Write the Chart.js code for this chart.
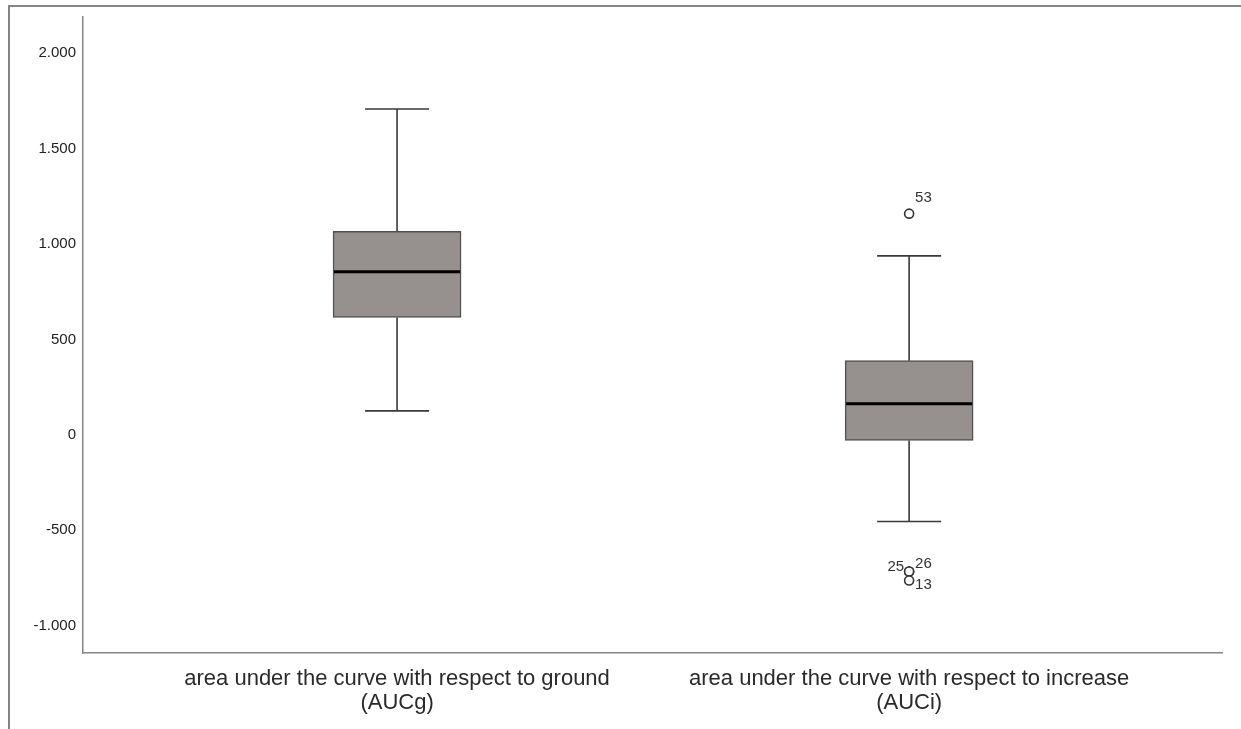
<!DOCTYPE html>
<html>
<head>
<meta charset="utf-8">
<script src="https://cdn.jsdelivr.net/npm/chart.js@4/dist/chart.umd.min.js"></script>
<style>
  html, body { margin: 0; padding: 0; background: #fff; }
  canvas { display: block; }
</style>
</head>
<body>
<canvas id="c" width="1241" height="729"></canvas>
<script>
// ---- data ----
const categories = [
  ['area under the curve with respect to ground', '(AUCg)'],
  ['area under the curve with respect to increase', '(AUCi)']
];
const whiskerLow  = [115, -464];
const q1          = [604, -40];
const median      = [844, 153];
const q3          = [1056, 378];
const whiskerHigh = [1696, 927];

const outlierCategory = [2, 2, 2, 2];
const outlierValues   = [1148, -726, -726, -773];
const outlierLabels   = ['53', '25', '26', '13'];

const yTickValues = [-1000, -500, 0, 500, 1000, 1500, 2000];

// ---- label placement (style) ----
const labelPlacement = {
  '53': { dx: 6, dy: -16, align: 'left' },
  '25': { dx: -5, dy: -5, align: 'right' },
  '26': { dx: 6, dy: -8, align: 'left' },
  '13': { dx: 6, dy: 4, align: 'left' }
};

function fmt(v) {
  const s = Math.abs(v).toString().replace(/\B(?=(\d{3})+(?!\d))/g, '.');
  return (v < 0 ? '-' : '') + s;
}

const framePlugin = {
  id: 'frame',
  beforeDraw(chart) {
    const ctx = chart.ctx;
    ctx.save();
    ctx.fillStyle = '#848484';
    ctx.fillRect(8, 5, 1241 - 8, 2);
    ctx.fillRect(8, 5, 2, 729 - 5);
    ctx.restore();
  }
};

const boxPlugin = {
  id: 'boxWhiskers',
  afterDatasetsDraw(chart) {
    const ctx = chart.ctx;
    const xs = chart.scales.x, ys = chart.scales.y;
    ctx.save();
    for (let i = 0; i < categories.length; i++) {
      const cx = xs.getPixelForValue(i + 1);
      const capHalf = 32, boxHalf = 64;
      ctx.strokeStyle = '#3a3a3a';
      ctx.lineWidth = 1.6;
      ctx.beginPath();
      ctx.moveTo(cx, ys.getPixelForValue(q3[i]));
      ctx.lineTo(cx, ys.getPixelForValue(whiskerHigh[i]));
      ctx.moveTo(cx - capHalf, ys.getPixelForValue(whiskerHigh[i]));
      ctx.lineTo(cx + capHalf, ys.getPixelForValue(whiskerHigh[i]));
      ctx.moveTo(cx, ys.getPixelForValue(q1[i]));
      ctx.lineTo(cx, ys.getPixelForValue(whiskerLow[i]));
      ctx.moveTo(cx - capHalf, ys.getPixelForValue(whiskerLow[i]));
      ctx.lineTo(cx + capHalf, ys.getPixelForValue(whiskerLow[i]));
      ctx.stroke();
      ctx.strokeStyle = '#000';
      ctx.lineWidth = 3;
      ctx.beginPath();
      ctx.moveTo(cx - boxHalf + 1, ys.getPixelForValue(median[i]));
      ctx.lineTo(cx + boxHalf - 1, ys.getPixelForValue(median[i]));
      ctx.stroke();
    }
    ctx.fillStyle = '#333';
    ctx.font = '15px "Liberation Sans", Arial, sans-serif';
    ctx.textBaseline = 'middle';
    for (let j = 0; j < outlierValues.length; j++) {
      const px = xs.getPixelForValue(outlierCategory[j]);
      const py = ys.getPixelForValue(outlierValues[j]);
      const p = labelPlacement[outlierLabels[j]];
      ctx.textAlign = p.align;
      ctx.fillText(outlierLabels[j], px + p.dx, py + p.dy);
    }
    ctx.restore();
  }
};

new Chart(document.getElementById('c'), {
  type: 'bar',
  data: {
    datasets: [
      {
        type: 'bar',
        data: categories.map((c, i) => ({ x: i + 1, y: [q1[i], q3[i]] })),
        backgroundColor: '#96918f',
        borderColor: '#505050',
        borderWidth: 1.5,
        borderSkipped: false,
        barThickness: 128,
        order: 2
      },
      {
        type: 'scatter',
        data: outlierValues.map((v, j) => ({ x: outlierCategory[j], y: v })),
        pointRadius: 4.5,
        pointBorderWidth: 1.6,
        pointBorderColor: '#333',
        pointBackgroundColor: '#fff',
        order: 1
      }
    ]
  },
  options: {
    responsive: false,
    animation: false,
    layout: { padding: { left: 0, top: 17, right: 19, bottom: 0 } },
    plugins: { legend: { display: false }, tooltip: { enabled: false } },
    scales: {
      x: {
        type: 'linear',
        offset: false,
        min: 0.3867,
        max: 2.611,
        grid: { display: false, drawTicks: false, offset: false },
        border: { display: true, color: '#858585', width: 1.5 },
        afterBuildTicks(scale) { scale.ticks = [{ value: 1 }, { value: 2 }]; },
        afterFit(scale) { scale.height = 76; },
        ticks: {
          autoSkip: false,
          maxRotation: 0,
          padding: 14,
          color: '#2a2a2a',
          font: { family: '"Liberation Sans", Arial, sans-serif', size: 22, lineHeight: 1.09 },
          callback: (v) => categories[Math.round(v) - 1]
        }
      },
      y: {
        min: -1153,
        max: 2178,
        grid: { display: false, drawTicks: false },
        border: { display: true, color: '#858585', width: 1.5 },
        afterBuildTicks(scale) { scale.ticks = yTickValues.map(v => ({ value: v })); },
        afterFit(scale) { scale.width = 83; },
        ticks: {
          padding: 7,
          labelOffset: 2,
          color: '#222',
          font: { family: '"Liberation Sans", Arial, sans-serif', size: 15 },
          callback: (v) => fmt(v)
        }
      }
    }
  },
  plugins: [framePlugin, boxPlugin]
});
</script>
</body>
</html>
